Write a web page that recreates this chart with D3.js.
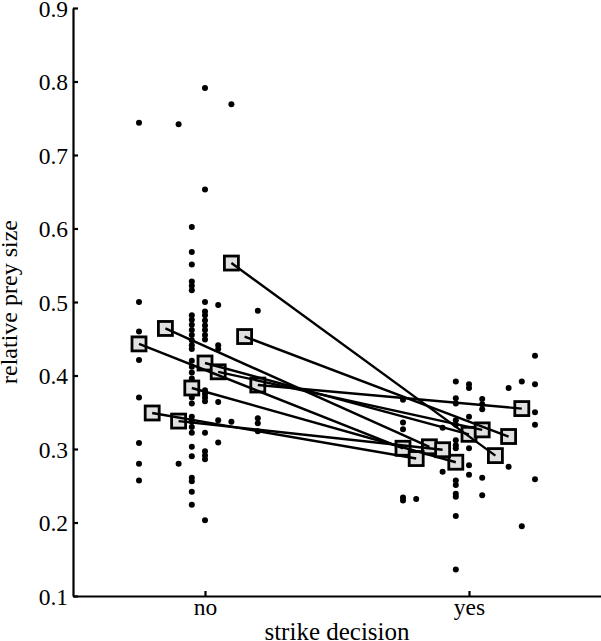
<!DOCTYPE html>
<html><head><meta charset="utf-8">
<script src="https://cdn.jsdelivr.net/npm/d3@7"></script>
<style>body{margin:0;background:#fff} svg{display:block}</style>
</head><body><svg id="c" width="601" height="641"></svg>
<script>
// categories of the x axis
const categories = ["no", "yes"];
const yTicks = [0.1, 0.2, 0.3, 0.4, 0.5, 0.6, 0.7, 0.8, 0.9];
const jitterStep = 0.05;

// individual observations: [jitter slot, relative prey size]
const dotsNo = [
  [-5, 0.744], [-5, 0.500], [-5, 0.460], [-5, 0.421], [-5, 0.370], [-5, 0.308], [-5, 0.280], [-5, 0.257],
  [-2, 0.742], [-2, 0.280],
  [-1, 0.602], [-1, 0.568], [-1, 0.551], [-1, 0.528], [-1, 0.522], [-1, 0.516], [-1, 0.482], [-1, 0.476],
  [-1, 0.469], [-1, 0.462], [-1, 0.455], [-1, 0.448], [-1, 0.441], [-1, 0.436], [-1, 0.420], [-1, 0.412],
  [-1, 0.404], [-1, 0.396], [-1, 0.388], [-1, 0.378], [-1, 0.370], [-1, 0.362], [-1, 0.344], [-1, 0.337],
  [-1, 0.330], [-1, 0.322], [-1, 0.303], [-1, 0.290], [-1, 0.261], [-1, 0.256], [-1, 0.242], [-1, 0.224],
  [0, 0.791], [0, 0.653], [0, 0.500], [0, 0.487], [0, 0.482], [0, 0.475], [0, 0.468], [0, 0.462],
  [0, 0.455], [0, 0.449], [0, 0.380], [0, 0.375], [0, 0.370], [0, 0.365], [0, 0.322], [0, 0.297],
  [0, 0.291], [0, 0.286], [0, 0.203],
  [1, 0.496], [1, 0.441], [1, 0.436], [1, 0.364], [1, 0.339], [1, 0.309],
  [2, 0.769], [2, 0.337],
  [4, 0.488], [4, 0.342], [4, 0.335], [4, 0.324]
];
const dotsYes = [
  [-5, 0.367], [-5, 0.336], [-5, 0.327], [-5, 0.234], [-5, 0.230],
  [-4, 0.232],
  [-2, 0.329], [-2, 0.269],
  [-1, 0.392], [-1, 0.369], [-1, 0.362], [-1, 0.339], [-1, 0.333], [-1, 0.312], [-1, 0.305], [-1, 0.301],
  [-1, 0.257], [-1, 0.251], [-1, 0.239], [-1, 0.235], [-1, 0.209], [-1, 0.136],
  [0, 0.388], [0, 0.383], [0, 0.344], [0, 0.301], [0, 0.278], [0, 0.265],
  [1, 0.368], [1, 0.361], [1, 0.354], [1, 0.261], [1, 0.237],
  [3, 0.383], [3, 0.276],
  [4, 0.392], [4, 0.195],
  [5, 0.427], [5, 0.388], [5, 0.350], [5, 0.333], [5, 0.259]
];

// per-individual means (same jitter slot on both sides)
const meanSlots = [2, -3, -5, 3, 0, 1, 4, -1, -4, -2];
const meanNo    = [0.553, 0.464, 0.443, 0.453, 0.417, 0.405, 0.387, 0.383, 0.349, 0.338];
const meanYes   = [0.291, 0.303, 0.301, 0.317, 0.320, 0.326, 0.355, 0.282, 0.287, 0.299];

const svg = d3.select("#c");
const font = "'Liberation Serif', 'Times New Roman', serif";
const x = d3.scaleLinear().domain([-0.5, 1.5]).range([73, 601]);
const y = d3.scaleLinear().domain([0.1, 0.9]).range([596, 8]);
const px = (cat, slot) => x(cat + slot * jitterStep);

// axes
const yAxis = svg.append("g").attr("transform", `translate(${x(-0.5)},0)`)
  .call(d3.axisLeft(y).tickValues(yTicks).tickFormat(d3.format(".1f"))
    .tickSizeInner(-5).tickSizeOuter(0).tickPadding(5));
const xAxis = svg.append("g").attr("transform", `translate(0,${y(0.1)})`)
  .call(d3.axisBottom(x).tickValues([0, 1]).tickFormat(i => categories[i])
    .tickSizeInner(-5).tickSizeOuter(0).tickPadding(4));
[yAxis, xAxis].forEach(g => {
  g.select(".domain").attr("stroke", "#000").attr("stroke-width", 2.2);
  g.selectAll(".tick line").attr("stroke", "#000").attr("stroke-width", 2.2);
  g.selectAll("text").attr("font-family", font).attr("font-size", 23.5).attr("fill", "#000");
});
yAxis.selectAll("text").attr("dy", "0.35em");
xAxis.selectAll("text").attr("dy", null).attr("y", 19);

// dots
const dots = svg.append("g");
dots.selectAll("circle.no").data(dotsNo).join("circle")
  .attr("cx", d => px(0, d[0])).attr("cy", d => y(d[1])).attr("r", 3).attr("fill", "#000");
dots.selectAll("circle.yes").data(dotsYes).join("circle")
  .attr("cx", d => px(1, d[0])).attr("cy", d => y(d[1])).attr("r", 3).attr("fill", "#000");

// means
const means = meanSlots.map((s, i) => ({slot: s, no: meanNo[i], yes: meanYes[i]}));
const sq = 14;
const mg = svg.append("g");
means.forEach(m => {
  [[0, m.no], [1, m.yes]].forEach(([c, v]) => {
    mg.append("rect").attr("x", px(c, m.slot) - sq / 2).attr("y", y(v) - sq / 2)
      .attr("width", sq).attr("height", sq)
      .attr("fill", "#e0e0e0").attr("stroke", "#000").attr("stroke-width", 2.8);
  });
});
svg.append("g").selectAll("line").data(means).join("line")
  .attr("x1", m => px(0, m.slot)).attr("y1", m => y(m.no))
  .attr("x2", m => px(1, m.slot)).attr("y2", m => y(m.yes))
  .attr("stroke", "#000").attr("stroke-width", 2.4);

// axis titles
svg.append("text").attr("transform", `translate(17,${(y(0.1) + y(0.9)) / 2}) rotate(-90)`)
  .attr("text-anchor", "middle").attr("font-family", font).attr("font-size", 24)
  .text("relative prey size");
svg.append("text").attr("x", (x(-0.5) + x(1.5)) / 2).attr("y", 640)
  .attr("text-anchor", "middle").attr("font-family", font).attr("font-size", 25)
  .text("strike decision");
</script></body></html>
